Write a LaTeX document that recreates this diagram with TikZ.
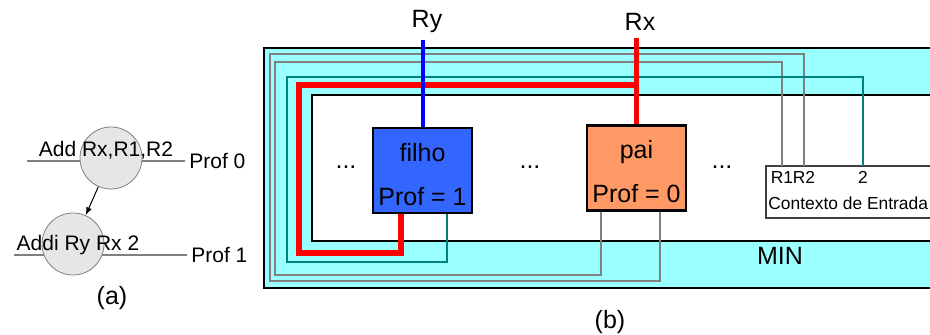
\documentclass[tikz,border=0pt]{standalone}
\usepackage{fontspec}
\setmainfont{Liberation Sans}
\usetikzlibrary{positioning,calc,arrows.meta}
\definecolor{minfill}{HTML}{99FFFF}
\definecolor{filhoblue}{HTML}{3366FF}
\definecolor{paiorange}{HTML}{FF9966}
\definecolor{wireteal}{HTML}{008080}
\definecolor{wiregray}{HTML}{808080}
\definecolor{opfill}{HTML}{E6E6E6}
\tikzset{unitbox/.style={draw=black,line width=1.2pt,minimum width=49.5pt,minimum height=42.5pt,inner sep=0pt,align=center,font=\fontsize{12.5}{15}\selectfont}  }
\tikzset{opnode/.style={draw=wiregray,fill=opfill,circle,minimum size=31pt,inner sep=0pt}  }
\tikzset{graywire/.style={draw=wiregray,line width=0.8pt}  }
\tikzset{tealwire/.style={draw=wireteal,line width=0.8pt}  }
\tikzset{regwire/.style={draw=red,line width=2.7pt}  }
\tikzset{bigtxt/.style={font=\fontsize{12.5}{15}\selectfont}  }
\tikzset{lbltxt/.style={font=\fontsize{10.5}{12}\selectfont}  }
\tikzset{ctxtxt/.style={font=\fontsize{8.7}{10}\selectfont,inner sep=1pt}  }
\tikzset{>={Latex}}

\begin{document}
\begin{tikzpicture}[x=0.5pt,y=-0.5pt]
	\useasboundingbox (0,0) rectangle (930,335);

	% (a)
	\coordinate (l0) at (27,161);
	\coordinate (l1) at (14,255);
	\node[lbltxt,anchor=west,inner sep=2pt] (p0) at (185,161) {Prof 0};
	\node[lbltxt,anchor=west,inner sep=2pt] (p1) at (187,255) {Prof 1};
	\draw[wiregray,line width=1pt] (l0) -- (p0.west);
	\draw[wiregray,line width=1pt] (l1) -- (p1.west);
	\node[opnode] (add) at (111,158) {};
	\node[opnode] (addi) at (73,244) {};
	\draw[-{Latex[length=4pt,width=3pt]},line width=0.5pt] (add) -- (addi);
	\node[lbltxt,anchor=base,inner sep=0pt] (addtxt) at (106,157) {Add Rx,R1,R2};
	\node[lbltxt,anchor=base,inner sep=0pt] (additxt) at (78,251) {Addi Ry Rx 2};
	\node[bigtxt] (capa) at (112,298) {(a)};

	% (b)
	\fill[minfill] (264,48) rectangle (930,288);
	\draw[line width=1pt] (930,48) -- (264,48) -- (264,288) -- (930,288);
	\fill[white] (312,95) rectangle (930,241);
	\draw[line width=1pt] (930,95) -- (312,95) -- (312,241) -- (930,241);
	\node[bigtxt] (min) at (780,256) {MIN};

	\coordinate (ctx) at (766,166);
	\fill[white] (ctx) rectangle (930,218);
	\draw[black!75,line width=0.6pt] (930,166) -- (ctx) -- (766,218) -- (930,218);
	\node[ctxtxt,anchor=base] (r1) at (782,184) {R1};
	\node[ctxtxt,anchor=base] (r2) at (804,184) {R2};
	\node[ctxtxt,anchor=base] (n2) at (863,184) {2};
	\node[ctxtxt,anchor=base west] (ctxname) at (766,210) {Contexto de Entrada};

	\node[unitbox,fill=filhoblue] (filho) at (422.5,170.5) {\rule{0pt}{13pt}filho\\[7pt]Prof = 1};
	\node[unitbox,fill=paiorange] (pai) at (636.5,168) {\rule{0pt}{13pt}pai\\[7pt]Prof = 0};

	\node[bigtxt,anchor=base] (d1) at (346,169) {...};
	\node[bigtxt,anchor=base] (d2) at (530,169) {...};
	\node[bigtxt,anchor=base] (d3) at (722,169) {...};

	\draw[graywire] ($(pai.south east)+(-27,0)$) |- (270,281) -- (270,54) -| (r2 |- ctx);
	\draw[graywire] ($(pai.south west)+(15,0)$) |- (275,275) -- (275,62) -| (r1 |- ctx);
	\draw[tealwire] ($(filho.south east)+(-26,0)$) |- (287,262) -- (287,77) -| (n2 |- ctx);
	\draw[regwire] ($(filho.south west)+(29,0)$) |- (299,253) -- (299,85) -| (pai.north);

	\node[bigtxt] (rx) at (640,22) {Rx};
	\node[bigtxt] (ry) at (427,22) {Ry};
	\draw[regwire] (pai.north |- rx.south) -- (pai.north);
	\draw[blue,line width=2pt] (filho.north |- ry.south) -- (filho.north);

	\node[bigtxt] (capb) at (610,322) {(b)};
\end{tikzpicture}
\end{document}
